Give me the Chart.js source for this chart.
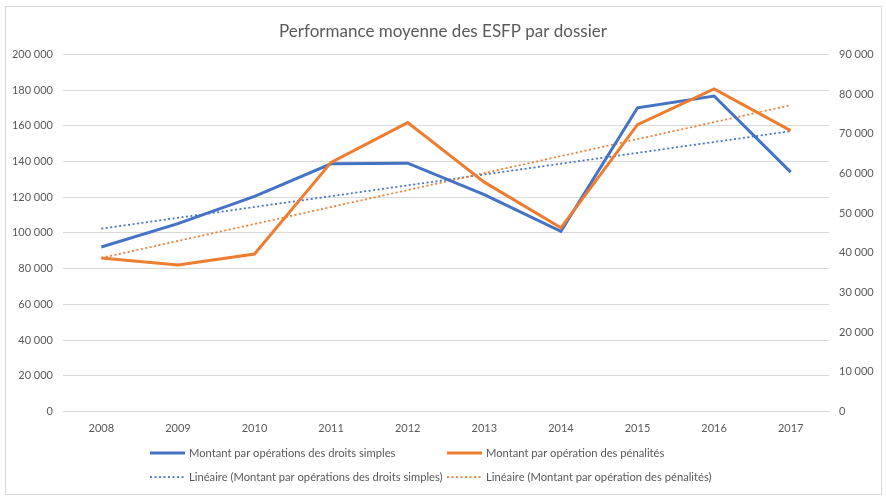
<!DOCTYPE html>
<html>
<head>
<meta charset="utf-8">
<script src="https://cdn.jsdelivr.net/npm/chart.js@4/dist/chart.umd.min.js"></script>
<style>
  html, body { margin: 0; padding: 0; background: #fff; }
  #wrap { position: relative; width: 886px; height: 496px; }
  #frame { position: absolute; left: 5px; top: 6px; width: 877px; height: 489px; border: 1px solid #d9d9d9; box-sizing: border-box; pointer-events: none; }
</style>
</head>
<body>
<div id="wrap">
  <canvas id="chart" width="886" height="496"></canvas>
  <div id="frame"></div>
</div>
<script>
// années
var years = ['2008', '2009', '2010', '2011', '2012', '2013', '2014', '2015', '2016', '2017'];

// montant par opérations des droits simples (axe gauche)
var droitsSimples = [92100, 105200, 120500, 138700, 139100, 121500, 100900, 170100, 176700, 134100];

// montant par opération des pénalités (axe droit)
var penalites = [38700, 36900, 39700, 62800, 72800, 57800, 46300, 72300, 81300, 70800];

// courbes de tendance linéaire, lues aux extrémités (2008 et 2017)
var tendanceDroits = [102400, null, null, null, null, null, null, null, null, 157000];
var tendancePenalites = [38700, null, null, null, null, null, null, null, null, 77200];

var labelDroits = 'Montant par opérations des droits simples';
var labelPenalites = 'Montant par opération des pénalités';

var BLUE = '#4472C4';
var ORANGE = '#ED7D31';
var GREY = '#595959';
var FONT = 'Lato, "Liberation Sans", sans-serif';

function fmt(v) {
  return String(v).replace(/\B(?=(\d{3})+(?!\d))/g, ' ');
}

// légende en grille 2 x 2 comme dans Excel
var gridLegend = {
  id: 'gridLegend',
  afterDraw: function (chart, args, opts) {
    var ctx = chart.ctx;
    ctx.save();
    ctx.font = opts.fontSize + 'px ' + FONT;
    ctx.fillStyle = GREY;
    ctx.textBaseline = 'middle';
    chart.data.datasets.forEach(function (ds, i) {
      var col = i % 2, row = Math.floor(i / 2);
      var x = opts.cols[col], y = opts.rows[row];
      ctx.beginPath();
      ctx.strokeStyle = ds.borderColor;
      ctx.lineWidth = ds.borderWidth;
      ctx.setLineDash(ds.borderDash || []);
      ctx.moveTo(x, y);
      ctx.lineTo(x + opts.sample, y);
      ctx.stroke();
      ctx.setLineDash([]);
      ctx.fillText(ds.label, x + opts.sample + 4, y);
    });
    ctx.restore();
  }
};

new Chart(document.getElementById('chart').getContext('2d'), {
  type: 'line',
  data: {
    labels: years,
    datasets: [{
      label: labelDroits,
      data: droitsSimples,
      yAxisID: 'y',
      borderColor: BLUE,
      borderWidth: 3,
      order: 1
    }, {
      label: labelPenalites,
      data: penalites,
      yAxisID: 'y2',
      borderColor: ORANGE,
      borderWidth: 3,
      order: 0
    }, {
      label: 'Linéaire (' + labelDroits + ')',
      data: tendanceDroits,
      yAxisID: 'y',
      borderColor: BLUE,
      borderWidth: 1.75,
      borderDash: [2, 2.5],
      spanGaps: true,
      order: 3
    }, {
      label: 'Linéaire (' + labelPenalites + ')',
      data: tendancePenalites,
      yAxisID: 'y2',
      borderColor: ORANGE,
      borderWidth: 1.75,
      borderDash: [2, 2.5],
      spanGaps: true,
      order: 2
    }]
  },
  options: {
    responsive: false,
    animation: false,
    layout: { padding: { left: 5, right: 5, top: 0, bottom: 0 } },
    elements: {
      point: { radius: 0, hoverRadius: 0 },
      line: { tension: 0, borderCapStyle: 'butt', borderJoinStyle: 'miter', fill: false }
    },
    plugins: {
      legend: { display: false },
      tooltip: { enabled: false },
      title: {
        display: true,
        text: 'Performance moyenne des ESFP par dossier',
        color: GREY,
        font: { family: FONT, size: 17, weight: 'normal' },
        padding: { top: 21, bottom: 13 }
      },
      gridLegend: { cols: [150, 447], rows: [453, 477], sample: 35, fontSize: 11.2 }
    },
    scales: {
      x: {
        offset: true,
        grid: { display: false, drawTicks: false },
        border: { display: true, color: '#d9d9d9', width: 1 },
        ticks: { color: GREY, font: { family: FONT, size: 11 }, padding: 10, maxRotation: 0 },
        afterFit: function (s) { s.height = 84.5; }
      },
      y: {
        position: 'left',
        min: 0,
        max: 200000,
        ticks: { stepSize: 20000, color: GREY, font: { family: FONT, size: 11 }, padding: 10, callback: fmt },
        grid: { color: '#d9d9d9', drawTicks: false },
        border: { display: false },
        afterFit: function (s) { s.width = 58; }
      },
      y2: {
        position: 'right',
        min: 0,
        max: 90000,
        ticks: { stepSize: 10000, color: GREY, font: { family: FONT, size: 11 }, padding: 10, callback: fmt },
        grid: { drawOnChartArea: false, drawTicks: false },
        border: { display: false },
        afterFit: function (s) { s.width = 52; }
      }
    }
  },
  plugins: [gridLegend]
});
</script>
</body>
</html>
